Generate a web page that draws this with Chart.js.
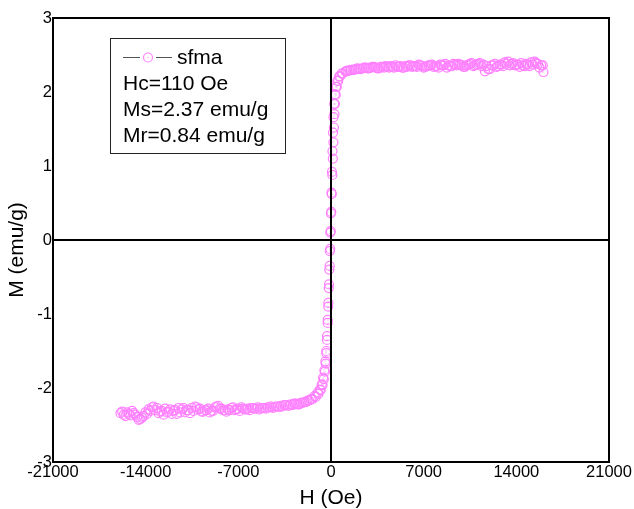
<!DOCTYPE html>
<html>
<head>
<meta charset="utf-8">
<script src="https://cdn.jsdelivr.net/npm/chart.js@4"></script>
<style>
html,body{margin:0;padding:0;background:#fff;}
#wrap{width:634px;height:509px;position:relative;}
</style>
</head>
<body>
<div id="wrap"><canvas id="c"></canvas></div>
<script>
// Descending-field branch (H from +16000 down to -15900)
const hDesc = [16000,15750,15500,15250,15000,14750,14500,14250,14000,13750,13500,13250,13000,12750,12500,12250,12000,11750,11500,11250,
  11000,10750,10500,10250,10000,9750,9500,9250,9000,8750,8500,8250,8000,7750,7500,7250,7000,6750,6500,6250,
  6000,5750,5500,5250,5000,4750,4500,4250,4000,3750,3500,3250,3000,2750,2500,2250,2000,1750,1500,1250,
  1100,800,620,480,380,300,240,190,150,110,70,30,-10,-50,-90,-130,-170,-210,-250,-300,-350,-400,-460,-540,-640,-780,-950,-1150,
  -1400,-1650,-1900,-2150,-2400,-2650,-2900,-3150,-3400,-3650,-3900,-4150,-4400,-4650,-4900,-5150,-5400,-5650,-5900,-6150,
  -6400,-6650,-6900,-7150,-7400,-7650,-7900,-8150,-8400,-8650,-8900,-9150,-9400,-9650,-9900,-10150,-10400,-10650,-10900,-11150,
  -11400,-11650,-11900,-12150,-12400,-12650,-12900,-13150,-13400,-13650,-13900,-14150,-14400,-14650,-14900,-15150,-15400,-15650,-15900];
const mDesc = [2.36,2.33,2.39,2.37,2.35,2.38,2.36,2.34,2.37,2.39,2.36,2.38,2.35,2.37,2.34,2.36,2.31,2.35,2.37,2.39,
  2.37,2.35,2.38,2.36,2.34,2.37,2.36,2.38,2.35,2.33,2.36,2.37,2.35,2.34,2.36,2.35,2.33,2.36,2.34,2.35,
  2.36,2.34,2.33,2.35,2.34,2.33,2.35,2.34,2.33,2.34,2.32,2.34,2.33,2.32,2.33,2.31,2.32,2.30,2.30,2.29,
  2.28,2.25,2.21,2.15,2.07,1.97,1.84,1.66,1.45,1.20,0.92,0.64,0.36,0.10,-0.15,-0.40,-0.65,-0.90,-1.12,-1.35,-1.53,-1.67,-1.78,-1.88,-1.96,-2.03,-2.08,-2.12,
  -2.15,-2.17,-2.19,-2.20,-2.22,-2.21,-2.23,-2.24,-2.23,-2.25,-2.26,-2.25,-2.27,-2.26,-2.28,-2.27,-2.29,-2.28,-2.27,-2.30,
  -2.29,-2.28,-2.31,-2.29,-2.26,-2.30,-2.32,-2.30,-2.28,-2.25,-2.31,-2.33,-2.30,-2.32,-2.28,-2.26,-2.31,-2.34,-2.30,-2.27,
  -2.33,-2.35,-2.31,-2.29,-2.33,-2.36,-2.32,-2.27,-2.25,-2.31,-2.35,-2.38,-2.42,-2.39,-2.34,-2.37,-2.33,-2.36,-2.34];
// Ascending-field branch (H from -15775 up to +16050)
const hAsc = [-15775,-15525,-15275,-15025,-14775,-14525,-14275,-14025,-13775,-13525,-13275,-13025,-12775,-12525,-12275,-12025,-11775,-11525,-11275,-11025,
  -10775,-10525,-10275,-10025,-9775,-9525,-9275,-9025,-8775,-8525,-8275,-8025,-7775,-7525,-7275,-7025,-6775,-6525,-6275,-6025,
  -5775,-5525,-5275,-5025,-4775,-4525,-4275,-4025,-3775,-3525,-3275,-3025,-2775,-2525,-2275,-2025,-1775,-1525,
  -1250,-1000,-830,-700,-600,-500,-420,-360,-300,-250,-200,-150,-100,-60,-20,20,60,100,140,180,220,260,300,360,440,540,680,880,1150,
  1375,1625,1875,2125,2375,2625,2875,3125,3375,3625,3875,4125,4375,4625,4875,5125,5375,5625,5875,6125,
  6375,6625,6875,7125,7375,7625,7875,8125,8375,8625,8875,9125,9375,9625,9875,10125,10375,10625,10875,11125,
  11375,11625,11875,12125,12375,12625,12875,13125,13375,13625,13875,14125,14375,14625,14875,15125,15375,15625,15875,16050];
const mAsc = [-2.32,-2.38,-2.35,-2.31,-2.36,-2.43,-2.40,-2.33,-2.29,-2.26,-2.30,-2.34,-2.31,-2.28,-2.32,-2.35,-2.30,-2.27,-2.29,-2.33,
  -2.30,-2.27,-2.25,-2.29,-2.32,-2.30,-2.28,-2.31,-2.26,-2.24,-2.28,-2.30,-2.29,-2.27,-2.30,-2.28,-2.26,-2.29,-2.28,-2.27,
  -2.28,-2.26,-2.27,-2.27,-2.26,-2.25,-2.26,-2.25,-2.24,-2.23,-2.24,-2.22,-2.21,-2.22,-2.20,-2.19,-2.17,-2.15,
  -2.11,-2.06,-2.02,-1.95,-1.86,-1.76,-1.64,-1.50,-1.30,-1.08,-0.85,-0.60,-0.35,-0.12,0.12,0.38,0.62,0.88,1.10,1.32,1.52,1.70,1.84,1.96,2.07,2.15,2.21,2.25,2.28,
  2.29,2.30,2.31,2.31,2.32,2.33,2.32,2.34,2.33,2.32,2.34,2.35,2.33,2.34,2.36,2.34,2.33,2.35,2.36,2.34,
  2.35,2.37,2.35,2.34,2.36,2.37,2.35,2.33,2.36,2.38,2.36,2.35,2.37,2.38,2.36,2.34,2.37,2.39,2.36,2.38,
  2.35,2.28,2.31,2.36,2.38,2.35,2.37,2.40,2.41,2.38,2.36,2.37,2.39,2.35,2.37,2.40,2.41,2.38,2.36,2.27];

const xTicks = [-21000,-14000,-7000,0,7000,14000,21000];
const yTicks = [-3,-2,-1,0,1,2,3];
const seriesName = 'sfma';
const legendLines = ['Hc=110 Oe','Ms=2.37 emu/g','Mr=0.84 emu/g'];
const xTitle = 'H (Oe)';
const yTitle = 'M (emu/g)';

const pink = '#ff80ff';
const FONT = '"Liberation Sans", Arial, sans-serif';

const points = hDesc.map((h,i)=>({x:h,y:mDesc[i]})).concat(hAsc.map((h,i)=>({x:h,y:mAsc[i]})));

const decor = {
  id:'decor',
  afterDatasetsDraw(chart){
    const {ctx, chartArea:a, scales:{x,y}} = chart;
    ctx.save();
    const meta = chart.getDatasetMeta(0);
    ctx.fillStyle = pink;
    meta.data.forEach(p=>{ ctx.fillRect(Math.round(p.x)-0.5, Math.round(p.y)-0.5, 1, 1); });
    ctx.strokeStyle = '#000';
    ctx.lineWidth = 2;
    const x0 = x.getPixelForValue(0), y0 = y.getPixelForValue(0);
    ctx.beginPath();
    ctx.moveTo(x0, a.top); ctx.lineTo(x0, a.bottom);
    ctx.moveTo(a.left, y0); ctx.lineTo(a.right, y0);
    ctx.stroke();
    ctx.strokeRect(a.left, a.top, a.right-a.left, a.bottom-a.top);
    // legend box
    ctx.lineWidth = 1;
    ctx.strokeStyle = '#222';
    ctx.strokeRect(110.5, 38.5, 175, 115);
    ctx.strokeStyle = '#555';
    ctx.beginPath();
    ctx.moveTo(123, 57.5); ctx.lineTo(140, 57.5);
    ctx.moveTo(156, 57.5); ctx.lineTo(172, 57.5);
    ctx.stroke();
    ctx.strokeStyle = pink;
    ctx.lineWidth = 1.2;
    ctx.beginPath(); ctx.arc(148, 57.5, 4.5, 0, Math.PI*2); ctx.stroke();
    ctx.fillStyle = pink; ctx.fillRect(147.5,57,1,1);
    ctx.fillStyle = '#000';
    ctx.font = '21px ' + FONT;
    ctx.textBaseline = 'middle';
    ctx.textAlign = 'left';
    ctx.fillText(seriesName, 177, 58);
    legendLines.forEach((t,i)=>ctx.fillText(t, 123, 84 + i*26));
    ctx.textAlign = 'center';
    ctx.fillText(xTitle, (a.left+a.right)/2, 498);
    ctx.translate(17, 250);
    ctx.rotate(-Math.PI/2);
    ctx.fillText(yTitle, 0, 0);
    ctx.restore();
  }
};

new Chart(document.getElementById('c'), {
  type:'scatter',
  data:{datasets:[{
    label:seriesName,
    data:points,
    showLine:false,
    pointStyle:'circle',
    pointRadius:4.5,
    pointBorderWidth:1.2,
    pointBorderColor:pink,
    pointBackgroundColor:'rgba(0,0,0,0)',
    pointHoverRadius:4.5
  }]},
  options:{
    responsive:true,
    maintainAspectRatio:false,
    animation:false,
    events:[],
    layout:{padding:{top:18,right:25,left:0,bottom:0}},
    plugins:{legend:{display:false},tooltip:{enabled:false}},
    scales:{
      x:{
        type:'linear', min:-21000, max:21000,
        afterBuildTicks(s){ s.ticks = xTicks.map(v=>({value:v})); },
        afterFit(s){ s.height = 47; },
        grid:{display:false, drawTicks:false},
        border:{display:false},
        ticks:{autoSkip:false, maxRotation:0, padding:1, color:'#000', font:{family:FONT, size:16.5}, callback:v=>String(v)}
      },
      y:{
        type:'linear', min:-3, max:3,
        afterBuildTicks(s){ s.ticks = yTicks.map(v=>({value:v})); },
        afterFit(s){ s.width = 53; },
        grid:{display:false, drawTicks:false},
        border:{display:false},
        ticks:{padding:1, color:'#000', font:{family:FONT, size:16.5}, callback:v=>String(v)}
      }
    }
  },
  plugins:[decor]
});
</script>
</body>
</html>
